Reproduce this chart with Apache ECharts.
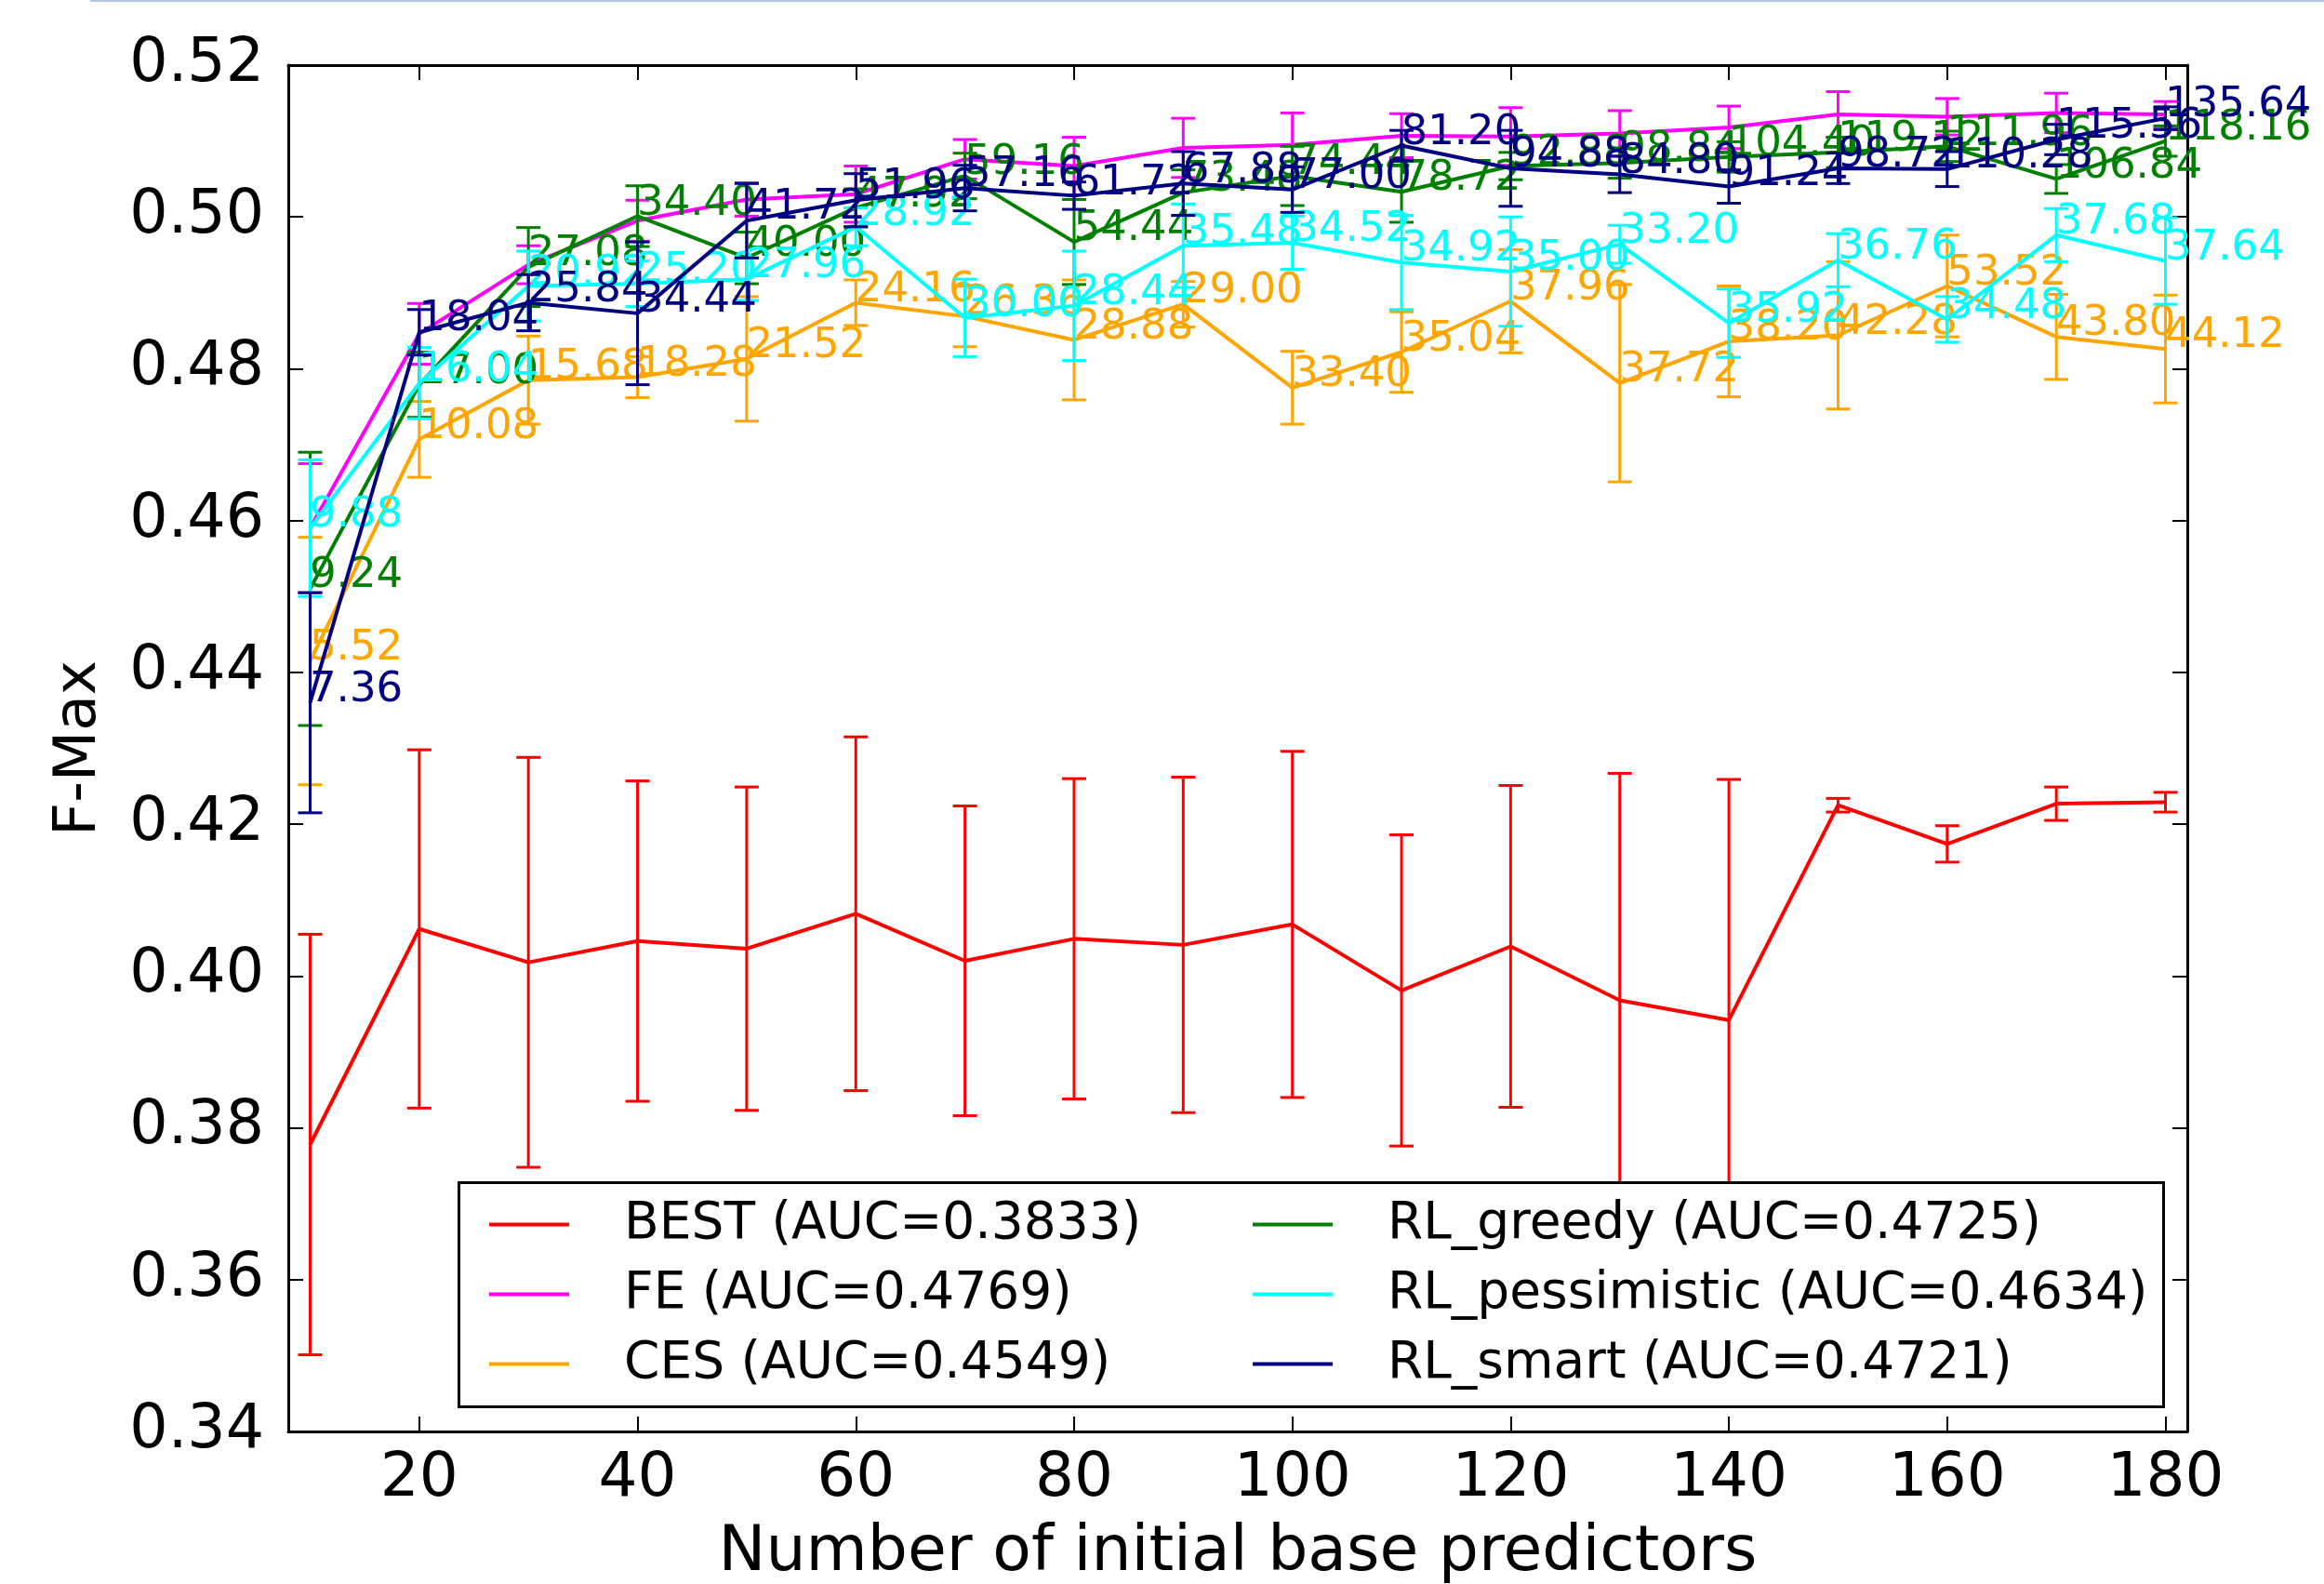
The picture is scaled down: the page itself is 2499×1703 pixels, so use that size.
<!DOCTYPE html>
<html><head><meta charset="utf-8">
<script src="https://cdn.jsdelivr.net/npm/echarts@6/dist/echarts.min.js"></script>
<style>html,body{margin:0;padding:0;background:#fff}#c{width:2499px;height:1703px}</style>
</head><body><div id="c"></div>
<script>
const xValues = [10,20,30,40,50,60,70,80,90,100,110,120,130,140,150,160,170,180];
const xTicks = [20,40,60,80,100,120,140,160,180];
const seriesNames = ['BEST (AUC=0.3833)','FE (AUC=0.4769)','CES (AUC=0.4549)','RL_greedy (AUC=0.4725)','RL_pessimistic (AUC=0.4634)','RL_smart (AUC=0.4721)'];
const seriesColors = ['#ff0000','#ff00ff','#ffa500','#008000','#00ffff','#000080'];

const bestMean = [0.3778,0.4062,0.4018,0.4046,0.4036,0.4082,0.4020,0.4049,0.4041,0.4068,0.3981,0.4039,0.3968,0.3942,0.4225,0.4174,0.4227,0.4229];
const bestErr  = [0.0277,0.0236,0.0270,0.0211,0.0213,0.0233,0.0204,0.0211,0.0221,0.0228,0.0205,0.0212,0.0299,0.0317,0.0009,0.0024,0.0022,0.0013];

const feMean = [0.4590,0.4846,0.4937,0.4995,0.5023,0.5030,0.5076,0.5067,0.5091,0.5095,0.5107,0.5106,0.5110,0.5118,0.5135,0.5132,0.5137,0.5135];
const feErr  = [0.0085,0.0040,0.0025,0.0027,0.0022,0.0037,0.0026,0.0038,0.0039,0.0042,0.0029,0.0038,0.0030,0.0028,0.0030,0.0024,0.0026,0.0017];

const cesMean = [0.4415,0.4707,0.4785,0.4789,0.4813,0.4887,0.4869,0.4838,0.4885,0.4775,0.4822,0.4889,0.4781,0.4836,0.4844,0.4909,0.4842,0.4826];
const cesErr  = [0.0163,0.0050,0.0058,0.0027,0.0082,0.0030,0.0040,0.0079,0.0030,0.0048,0.0053,0.0068,0.0130,0.0073,0.0097,0.0067,0.0056,0.0071];
const cesLabels = ['5.52','10.08','15.68','18.28','21.52','24.16','26.36','28.88','29.00','33.40','35.04','37.96','37.72','38.20','42.28','53.52','43.80','44.12'];

const greedyMean = [0.4510,0.4779,0.4934,0.5001,0.4946,0.5012,0.5054,0.4967,0.5032,0.5054,0.5033,0.5067,0.5071,0.5079,0.5085,0.5093,0.5050,0.5100];
const greedyErr  = [0.0180,0.0043,0.0052,0.0040,0.0034,0.0025,0.0030,0.0056,0.0030,0.0039,0.0040,0.0018,0.0020,0.0020,0.0020,0.0020,0.0019,0.0020];
const greedyLabels = ['9.24','17.00','27.08','34.40','40.00','47.92','59.16','54.44','73.48','74.44','78.72','92.88','98.84','104.40','119.12','111.96','106.84','118.16'];

const pessMean = [0.4590,0.4781,0.4909,0.4912,0.4918,0.4987,0.4867,0.4883,0.4962,0.4966,0.4940,0.4928,0.4964,0.4860,0.4943,0.4865,0.4976,0.4942];
const pessErr  = [0.0090,0.0047,0.0046,0.0030,0.0028,0.0025,0.0051,0.0072,0.0055,0.0035,0.0062,0.0072,0.0025,0.0045,0.0035,0.0030,0.0035,0.0057];
const pessLabels = ['9.88','16.04','20.92','25.20','27.96','28.92','30.00','28.44','35.48','34.52','34.92','35.00','33.20','35.92','36.76','34.48','37.68','37.64'];

const smartMean = [0.4360,0.4848,0.4887,0.4873,0.4995,0.5022,0.5038,0.5028,0.5044,0.5036,0.5094,0.5064,0.5056,0.5040,0.5064,0.5063,0.5102,0.5130];
const smartErr  = [0.0145,0.0030,0.0037,0.0094,0.0049,0.0035,0.0030,0.0018,0.0042,0.0030,0.0020,0.0050,0.0024,0.0022,0.0020,0.0023,0.0020,0.0015];
const smartLabels = ['7.36','18.04','25.84','34.44','41.72','51.96','57.16','61.72','67.88','77.00','81.20','94.88','84.80','91.24','98.72','110.28','115.56','135.64'];

const FONT = 'DejaVu Sans';
const chart = echarts.init(document.getElementById('c'), null, {renderer:'canvas'});

function lineSeries(idx, mean, labels) {
  const color = seriesColors[idx];
  return {
    name: seriesNames[idx], type: 'line',
    data: xValues.map((x,i)=>[x, mean[i]]),
    showSymbol: true, symbol: 'circle', symbolSize: 1,
    itemStyle: {color: color},
    lineStyle: {color: color, width: 4},
    z: 2 + idx,
    label: labels ? {
      show: true, formatter: p => labels[p.dataIndex],
      position: [0, 0], align: 'left', verticalAlign: 'middle', offset: [0, -13],
      color: color, fontFamily: FONT, fontSize: 45
    } : {show: false},
    emphasis: {disabled: true},
    animation: false
  };
}
function errSeries(idx, mean, err) {
  const color = seriesColors[idx];
  return {
    name: seriesNames[idx] + ' err', type: 'custom',
    data: xValues.map((x,i)=>[x, mean[i], err[i]]),
    encode: {x: 0, y: 1},
    z: 2 + idx,
    renderItem: function(params, api) {
      const x = api.value(0), m = api.value(1), e = api.value(2);
      const t = api.coord([x, m + e]);
      const b = api.coord([x, m - e]);
      const hw = 13;
      const st = {stroke: color, lineWidth: 3, fill: null};
      return {type:'group', children:[
        {type:'line', shape:{x1:t[0],y1:t[1],x2:b[0],y2:b[1]}, style: st},
        {type:'line', shape:{x1:t[0]-hw,y1:t[1],x2:t[0]+hw,y2:t[1]}, style: st},
        {type:'line', shape:{x1:b[0]-hw,y1:b[1],x2:b[0]+hw,y2:b[1]}, style: st}
      ]};
    },
    animation: false
  };
}

const axisCommon = {
  axisLine: {show: true, lineStyle: {color: '#000', width: 3}},
  splitLine: {show: false}
};

const legendText = {color: '#000', fontFamily: FONT, fontSize: 55, padding: [0,0,0,54]};

const option = {
  backgroundColor: '#ffffff',
  animation: false,
  grid: {left: 310, right: 147, top: 70, bottom: 164, show: false, outerBoundsMode: 'none', containLabel: false},
  xAxis: [
    Object.assign({}, axisCommon, {
      type: 'value', min: 8, max: 182, position: 'bottom',
      name: 'Number of initial base predictors', nameLocation: 'middle', nameGap: 97,
      nameTextStyle: {color: '#000', fontFamily: FONT, fontSize: 68},
      axisTick: {show: true, inside: true, length: 16, lineStyle: {color: '#000', width: 2}, customValues: xTicks},
      axisLabel: {show: true, margin: 19, color: '#000', fontFamily: FONT, fontSize: 66, customValues: xTicks}
    }),
    Object.assign({}, axisCommon, {
      type: 'value', min: 8, max: 182, position: 'top',
      axisTick: {show: true, inside: true, length: 16, lineStyle: {color: '#000', width: 2}, customValues: xTicks},
      axisLabel: {show: false}
    })
  ],
  yAxis: [
    Object.assign({}, axisCommon, {
      type: 'value', min: 0.34, max: 0.52, interval: 0.02, position: 'left',
      name: 'F-Max', nameLocation: 'middle', nameGap: 193,
      nameTextStyle: {color: '#000', fontFamily: FONT, fontSize: 63},
      axisTick: {show: true, inside: true, length: 16, lineStyle: {color: '#000', width: 2}},
      axisLabel: {show: true, margin: 26, color: '#000', fontFamily: FONT, fontSize: 65, formatter: v => v.toFixed(2)}
    }),
    Object.assign({}, axisCommon, {
      type: 'value', min: 0.34, max: 0.52, interval: 0.02, position: 'right',
      axisTick: {show: true, inside: true, length: 16, lineStyle: {color: '#000', width: 2}},
      axisLabel: {show: false}
    })
  ],
  legend: [
    {data: seriesNames.slice(0,3), orient: 'vertical', left: 526, top: 1289, itemGap: 20,
     icon: 'rect', itemWidth: 86, itemHeight: 4, padding: 0, textStyle: legendText, z: 101, selectedMode: false},
    {data: seriesNames.slice(3,6), orient: 'vertical', left: 1347, top: 1289, itemGap: 20,
     icon: 'rect', itemWidth: 86, itemHeight: 4, padding: 0, textStyle: legendText, z: 101, selectedMode: false}
  ],
  graphic: [
    {type: 'rect', left: 492, top: 1270, shape: {width: 1833, height: 241}, style: {fill: '#fff', stroke: '#000', lineWidth: 3}, z: 100},
    {type: 'line', shape: {x1: 97, y1: 1, x2: 2499, y2: 1}, style: {stroke: '#b4c7e7', lineWidth: 2}, z: 100}
  ],
  series: [
    errSeries(0, bestMean, bestErr), lineSeries(0, bestMean, null),
    errSeries(1, feMean, feErr), lineSeries(1, feMean, null),
    errSeries(2, cesMean, cesErr), lineSeries(2, cesMean, cesLabels),
    errSeries(3, greedyMean, greedyErr), lineSeries(3, greedyMean, greedyLabels),
    errSeries(4, pessMean, pessErr), lineSeries(4, pessMean, pessLabels),
    errSeries(5, smartMean, smartErr), lineSeries(5, smartMean, smartLabels)
  ]
};
chart.setOption(option);
</script>
</body></html>
